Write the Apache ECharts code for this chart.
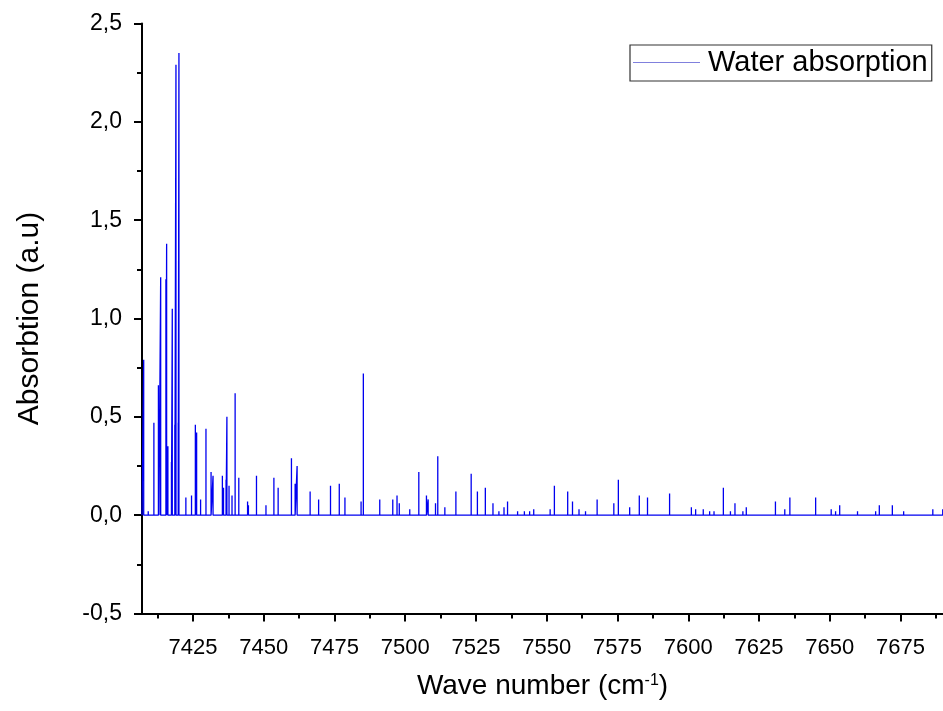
<!DOCTYPE html>
<html>
<head>
<meta charset="utf-8">
<script src="https://cdn.jsdelivr.net/npm/echarts@6/dist/echarts.min.js"></script>
<style>
html,body{margin:0;padding:0;background:#fff;}
#chart{width:943px;height:711px;}
</style>
</head>
<body>
<div id="chart"></div>
<script>
// Peak positions (wave number, cm^-1) and peak heights (a.u.)
const peakWavenumbers = [
  7407.6, 7409.2, 7411.2, 7412.8, 7413.0, 7413.6, 7415.45, 7415.7, 7416.15, 7417.4,
  7417.7, 7418.6, 7419.0, 7419.8, 7420.05, 7422.5, 7424.5, 7425.85, 7426.3, 7427.7,
  7429.6, 7431.4, 7432.1, 7435.4, 7435.8, 7436.7, 7437.0, 7437.75, 7438.8, 7439.9,
  7441.2, 7444.3, 7444.6, 7447.45, 7450.8, 7453.6, 7455.1, 7459.8, 7461.1, 7461.8,
  7466.4, 7469.4, 7473.6, 7476.7, 7478.7, 7484.4, 7485.2, 7491.0, 7495.6, 7497.1,
  7497.9, 7501.6, 7504.8, 7507.5, 7508.1, 7510.7, 7511.5, 7514.0, 7517.9, 7523.3,
  7525.5, 7528.3, 7531.0, 7533.1, 7534.9, 7536.15, 7539.7, 7542.1, 7543.95, 7545.4,
  7551.2, 7552.7, 7557.4, 7559.1, 7561.4, 7563.7, 7567.8, 7570.0, 7573.7, 7575.3,
  7579.3, 7582.7, 7585.6, 7593.4, 7601.1, 7602.6, 7605.3, 7607.55, 7609.1, 7612.4,
  7614.9, 7616.5, 7619.3, 7620.5, 7627.7, 7630.8, 7634.1, 7635.9, 7645.0, 7650.5,
  7652.05, 7653.5, 7659.8, 7666.2, 7667.5, 7672.1, 7676.1, 7679.0, 7686.4, 7689.9
];
const peakHeights = [
  0.79, 0.02, 0.47, 0.66, 0.40, 1.21, 1.20, 1.38, 0.35, 0.27,
  1.05, 0.46, 2.29, 0.47, 2.35, 0.09, 0.10, 0.46, 0.42, 0.08,
  0.44, 0.22, 0.20, 0.20, 0.14, 0.18, 0.50, 0.15, 0.10, 0.62,
  0.19, 0.07, 0.05, 0.20, 0.05, 0.19, 0.14, 0.29, 0.16, 0.25,
  0.12, 0.08, 0.15, 0.16, 0.09, 0.07, 0.72, 0.08, 0.08, 0.10,
  0.06, 0.03, 0.22, 0.10, 0.08, 0.06, 0.30, 0.04, 0.12, 0.21,
  0.12, 0.14, 0.06, 0.02, 0.04, 0.07, 0.02, 0.02, 0.02, 0.03,
  0.03, 0.15, 0.12, 0.07, 0.03, 0.02, 0.08, 0.01, 0.06, 0.18,
  0.04, 0.10, 0.09, 0.11, 0.04, 0.03, 0.03, 0.02, 0.02, 0.14,
  0.02, 0.06, 0.02, 0.04, 0.01, 0.07, 0.03, 0.09, 0.09, 0.03,
  0.02, 0.05, 0.02, 0.02, 0.05, 0.05, 0.02, 0.01, 0.03, 0.03
];
const xRange = [7407, 7690];
const yRange = [-0.5, 2.5];
const xMajorTicks = [7425, 7450, 7475, 7500, 7525, 7550, 7575, 7600, 7625, 7650, 7675];
const xMinorTicks = [7412.5, 7437.5, 7462.5, 7487.5, 7512.5, 7537.5, 7562.5, 7587.5, 7612.5, 7637.5, 7662.5, 7687.5];
const seriesName = 'Water absorption';

// Build the stick spectrum: baseline at 0 with a vertical spike at each peak
const spectrum = [[xRange[0], 0]];
for (let i = 0; i < peakWavenumbers.length; i++) {
  const w = peakWavenumbers[i];
  spectrum.push([w, 0], [w, peakHeights[i]], [w, 0]);
}
spectrum.push([xRange[1], 0]);

const FONT = 'Liberation Sans, Arial, sans-serif';
const chart = echarts.init(document.getElementById('chart'), null, {renderer: 'canvas'});
chart.setOption({
  backgroundColor: '#fff',
  animation: false,
  grid: {left: 142, right: 0, top: 23.5, bottom: 97.5, containLabel: false},
  legend: {
    data: [{name: seriesName, icon: 'rect'}],
    left: 630, top: 45,
    padding: [3, 4, 4, 3],
    itemWidth: 67, itemHeight: 1, itemGap: 0,
    borderColor: '#333', borderWidth: 1.2,
    backgroundColor: '#fff',
    itemStyle: {color: '#8080dd'},
    textStyle: {fontFamily: FONT, fontSize: 29, color: '#000', padding: [0, 0, 0, 3]}
  },
  xAxis: [{
    type: 'value',
    min: xRange[0], max: xRange[1],
    name: 'Wave number (cm{sup|-1})',
    nameLocation: 'middle', nameGap: 59,
    nameTextStyle: {fontFamily: FONT, fontSize: 28, color: '#000',
      rich: {sup: {fontFamily: FONT, fontSize: 16, color: '#000', verticalAlign: 'top', padding: [0, 0, 12, 0]}}},
    axisLine: {show: true, onZero: false, lineStyle: {color: '#000', width: 2}},
    axisTick: {show: true, inside: false, length: 8, lineStyle: {color: '#000', width: 2}, customValues: xMajorTicks},
    axisLabel: {show: true, margin: 23, fontFamily: FONT, fontSize: 22, color: '#000', customValues: xMajorTicks,
      formatter: v => String(v)},
    splitLine: {show: false}
  }, {
    type: 'value',
    min: xRange[0], max: xRange[1],
    position: 'bottom',
    axisLine: {show: false, onZero: false},
    axisTick: {show: true, inside: false, length: 5, lineStyle: {color: '#000', width: 2}, customValues: xMinorTicks},
    axisLabel: {show: false},
    splitLine: {show: false}
  }],
  yAxis: {
    type: 'value',
    min: yRange[0], max: yRange[1], interval: 0.5,
    name: 'Absorbtion (a.u)',
    nameLocation: 'middle', nameGap: 97,
    nameTextStyle: {fontFamily: FONT, fontSize: 30, color: '#000'},
    axisLine: {show: true, onZero: false, lineStyle: {color: '#000', width: 2}},
    axisTick: {show: true, inside: false, length: 8, lineStyle: {color: '#000', width: 2}},
    minorTick: {show: true, splitNumber: 2, length: 5, lineStyle: {color: '#000', width: 2}},
    axisLabel: {margin: 20, fontFamily: FONT, fontSize: 23, color: '#000',
      formatter: v => v.toFixed(1).replace('.', ',')},
    splitLine: {show: false},
    minorSplitLine: {show: false}
  },
  series: [{
    name: seriesName,
    type: 'line',
    xAxisIndex: 0,
    data: spectrum,
    symbol: 'none',
    showSymbol: false,
    lineStyle: {color: '#0000f0', width: 1.3},
    itemStyle: {color: '#0000f0'}
  }]
});
</script>
</body>
</html>
